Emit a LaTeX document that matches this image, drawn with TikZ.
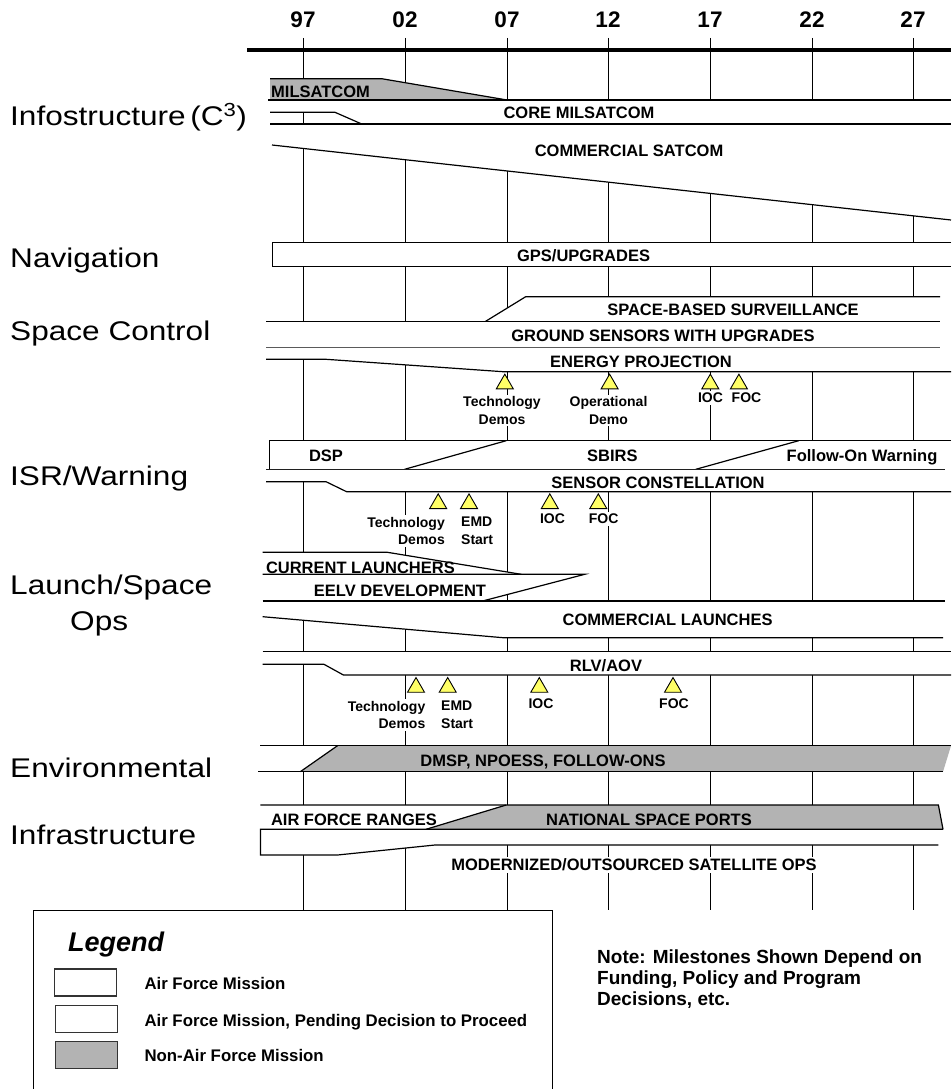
\documentclass[tikz,border=0pt]{standalone}
\usepackage{fontspec}
\setmainfont{Liberation Sans}
\newfontfamily\catfont[FakeStretch=1.17]{Liberation Sans}
\usepackage{tikz}
\usetikzlibrary{shapes.geometric}
\definecolor{barGray}{RGB}{179,179,179}
\definecolor{msYellow}{RGB}{255,255,102}
\tikzstyle {year label} = [font=\bfseries\fontsize{22.5}{24}\selectfont, inner sep=0pt]
\tikzstyle {row label} = [font=\catfont\fontsize{27}{30}\selectfont, anchor=base west, inner sep=0pt]
\tikzstyle {bar label} = [font=\bfseries\fontsize{16.5}{19}\selectfont, anchor=base, inner sep=0pt]
\tikzstyle {key label} = [font=\bfseries\fontsize{16.8}{19}\selectfont, anchor=base west, inner sep=0pt]
\tikzstyle {ms label} = [font=\bfseries\fontsize{14}{17.6}\selectfont, fill=white, inner sep=2pt, align=center]
\tikzstyle {milestone} = [regular polygon, regular polygon sides=3, draw, fill=msYellow, line width=0.9pt, minimum size=19.6pt, inner sep=0pt, anchor=south]
\tikzstyle {swatch} = [draw=black!80, line width=1.2pt, minimum width=62pt, minimum height=27pt, inner sep=0pt]
\tikzset{tick line/.style = {line width=1pt},
         bar edge/.style = {line width=1.2pt}}

\begin{document}
\begin{tikzpicture}[x=1pt, y=-1pt]
\clip (0,0) rectangle (951,1089);
\fill[white] (0,0) rectangle (951,1089);

\node[year label] (y97) at (303,20) {97};
\node[year label] (y02) at (405,20) {02};
\node[year label] (y07) at (507,20) {07};
\node[year label] (y12) at (608,20) {12};
\node[year label] (y17) at (710,20) {17};
\node[year label] (y22) at (812,20) {22};
\node[year label] (y27) at (913,20) {27};
\draw[tick line] (303,38) -- (303,910);
\draw[tick line] (405,38) -- (405,910);
\draw[tick line] (507,38) -- (507,910);
\draw[tick line] (608,38) -- (608,910);
\draw[tick line] (710,38) -- (710,910);
\draw[tick line] (812,38) -- (812,910);
\draw[tick line] (913,38) -- (913,910);
\draw[line width=3.2pt] (247,50) -- (951,50);

% Infostructure
\fill[barGray] (270,78.7) -- (381.7,78.7) -- (507,100) -- (270,100) -- cycle;
\draw[bar edge] (270,78.7) -- (381.7,78.7) -- (507,100);
\fill[white] (270,100) -- (951,100) -- (951,124) -- (361.7,124) -- (335,112.3) -- (270,112.3) -- cycle;
\draw[bar edge] (268,100) -- (951,100);
\draw[bar edge] (270,112.3) -- (335,112.3) -- (361.7,124);
\fill[white] (272,124) -- (951,124) -- (951,220) -- (272,145) -- cycle;
\draw[bar edge] (270,124) -- (951,124);
\draw[bar edge] (272,145) -- (951,220);
\node[bar label, anchor=base west] (milsat) at (271,97.5) {MILSATCOM};
\node[bar label] (coremil) at (579,119) {CORE MILSATCOM};
\node[bar label] (comsat) at (629,156.7) {COMMERCIAL SATCOM};

% Navigation
\fill[white] (272.7,242.7) rectangle (951,266.7);
\draw[bar edge] (951,242.7) -- (272.7,242.7) -- (272.7,266.7) -- (951,266.7);
\node[bar label] (gps) at (583.6,261.5) {GPS/UPGRADES};

% Space Control
\fill[white] (525.7,296.7) -- (940,296.7) -- (940,321.7) -- (485,321.7) -- cycle;
\draw[bar edge] (485,321.7) -- (525.7,296.7) -- (940,296.7);
\fill[white] (266,321.7) rectangle (940,347.7);
\draw[bar edge] (266,321.7) -- (940,321.7);
\draw[bar edge] (266,347.7) -- (940,347.7);
\fill[white] (266,347.7) -- (951,347.7) -- (951,371.7) -- (503,371.7) -- (326,359.3) -- (266,359.3) -- cycle;
\draw[bar edge] (266,359.3) -- (326,359.3) -- (503,371.7) -- (951,371.7);
\node[bar label] (sbs) at (733,315) {SPACE-BASED SURVEILLANCE};
\node[bar label] (gswu) at (663,341.5) {GROUND SENSORS WITH UPGRADES};
\node[bar label] (energy) at (641,367) {ENERGY PROJECTION};
\node[milestone] (epTech) at (504.8,389.3) {};
\node[milestone] (epOper) at (609.6,389.3) {};
\node[milestone] (epIoc) at (710.3,389.3) {};
\node[milestone] (epFoc) at (738.9,389.3) {};
\node[ms label] (epTechL) at (502,410.5) {Technology\\Demos};
\node[ms label] (epOperL) at (608.5,410.5) {Operational\\Demo};
\node[ms label] (epIocL) at (710.5,398) {IOC};
\node[ms label] (epFocL) at (746.5,398) {FOC};

% ISR/Warning
\fill[white] (269.5,440.7) rectangle (951,469.3);
\draw[bar edge] (951,440.7) -- (269.5,440.7) -- (269.5,469.3);
\draw[bar edge] (266,469.3) -- (945,469.3);
\draw[bar edge] (404.6,469.3) -- (506.2,440.7);
\draw[bar edge] (695.8,469.3) -- (798.7,440.7);
\fill[white] (266,469.9) -- (951,469.9) -- (951,491.7) -- (346.6,491.7) -- (326,481.7) -- (266,481.7) -- cycle;
\draw[bar edge] (266,481.7) -- (326,481.7) -- (346.6,491.7) -- (951,491.7);
\node[bar label] (dsp) at (326,461.5) {DSP};
\node[bar label] (sbirs) at (612.3,461.5) {SBIRS};
\node[bar label, anchor=base west] (followon) at (786.5,461.5) {Follow-On Warning};
\node[bar label] (sensor) at (658,488) {SENSOR CONSTELLATION};
\node[milestone] (isTech) at (438.2,509) {};
\node[milestone] (isEmd) at (469,509) {};
\node[milestone] (isIoc) at (549.8,509) {};
\node[milestone] (isFoc) at (598.3,509) {};
\node[ms label, align=right, anchor=east] (isTechL) at (447,531) {Technology\\Demos};
\node[ms label, align=left, anchor=west] (isEmdL) at (459,531) {EMD\\Start};
\node[ms label] (isIocL) at (552.5,519) {IOC};
\node[ms label] (isFocL) at (603.6,519) {FOC};

% Launch/Space Ops
\fill[white] (262.7,552.3) -- (387.4,552.3) -- (521.2,574.3) -- (262.7,574.3) -- cycle;
\draw[bar edge] (262.7,552.3) -- (387.4,552.3) -- (521.2,574.3);
\fill[white] (262.7,574.3) -- (584.7,574.3) -- (482.6,601) -- (262.7,601) -- cycle;
\draw[bar edge] (262.7,574.3) -- (584.7,574.3) -- (482.6,601);
\fill[white] (262.7,601) -- (945,601) -- (945,637.7) -- (503,637.7) -- (262.7,616.7) -- cycle;
\draw[bar edge] (262.7,601) -- (945,601);
\draw[bar edge] (262.7,616.7) -- (503,637.7) -- (943,637.7);
\fill[white] (262.7,651.7) -- (951,651.7) -- (951,675) -- (343.4,675) -- (324,664.3) -- (262.7,664.3) -- cycle;
\draw[bar edge] (262.7,651.7) -- (951,651.7);
\draw[bar edge] (262.7,664.3) -- (324,664.3) -- (343.4,675) -- (951,675);
\node[bar label, anchor=base west] (current) at (265.8,573) {CURRENT LAUNCHERS};
\node[bar label] (eelv) at (400,596.5) {EELV DEVELOPMENT};
\node[bar label] (comlaunch) at (667.6,625) {COMMERCIAL LAUNCHES};
\node[bar label] (rlv) at (606,671.5) {RLV/AOV};
\node[milestone] (lsTech) at (416,692.7) {};
\node[milestone] (lsEmd) at (447.7,692.7) {};
\node[milestone] (lsIoc) at (539.3,692.7) {};
\node[milestone] (lsFoc) at (673,692.7) {};
\node[ms label, align=right, anchor=east] (lsTechL) at (427.5,715) {Technology\\Demos};
\node[ms label, align=left, anchor=west] (lsEmdL) at (439,715) {EMD\\Start};
\node[ms label] (lsIocL) at (541,704) {IOC};
\node[ms label] (lsFocL) at (674,704) {FOC};

% Environmental
\fill[white] (258,745.7) rectangle (951,771.7);
\fill[barGray] (337.5,745.7) -- (951,745.7) -- (943,771.7) -- (300.3,771.7) -- cycle;
\draw[bar edge] (260.4,745.7) -- (951,745.7);
\draw[bar edge] (258,771.7) -- (943,771.7);
\draw[bar edge] (300.3,771.7) -- (337.5,745.7);
\node[bar label] (dmsp) at (543,766.5) {DMSP, NPOESS, FOLLOW-ONS};

% Infrastructure
\fill[white] (260.4,805) rectangle (943,829.3);
\fill[barGray] (506.2,805) -- (938.4,805) -- (943,829.3) -- (426,829.3) -- cycle;
\draw[bar edge] (260.4,805) -- (938.4,805) -- (943,829.3);
\draw[bar edge] (426,829.3) -- (506.2,805);
\fill[white] (260.4,829.3) -- (943,829.3) -- (943,845) -- (435,845) -- (337.5,855) -- (260.4,855) -- cycle;
\draw[bar edge] (943,829.3) -- (260.4,829.3) -- (260.4,855) -- (337.5,855) -- (435,845) -- (938.4,845);
\node[bar label, anchor=base west] (afranges) at (270.8,825) {AIR FORCE RANGES};
\node[bar label] (spaceports) at (649,825) {NATIONAL SPACE PORTS};
\node[bar label, fill=white, inner sep=2pt] (satops) at (634,870.5) {MODERNIZED/OUTSOURCED SATELLITE OPS};

% row names
\node[row label] (infostr) at (10,126) {Infostructure\,(C\textsuperscript{3})};
\node[row label] (navig) at (10,267) {Navigation};
\node[row label] (spctrl) at (10,340) {Space Control};
\node[row label] (isrwarn) at (10,485) {ISR/Warning};
\node[row label] (launch) at (10,594) {Launch/Space};
\node[row label] (launchops) at (70,630) {Ops};
\node[row label] (environ) at (10,777) {Environmental};
\node[row label] (infrastr) at (10,844) {Infrastructure};

% legend
\draw[line width=1pt] (33.3,1100) -- (33.3,910) -- (552,910) -- (552,1100);
\node[font=\bfseries\itshape\fontsize{27}{30}\selectfont, anchor=base west, inner sep=0pt] (legend) at (68,951.7) {Legend};
\node[swatch, fill=white] (swAf) at (85.5,982.5) {};
\node[swatch, fill=white] (swPend) at (86.3,1019.2) {};
\node[swatch, fill=barGray] (swNon) at (86.3,1055.3) {};
\node[key label] (txAf) at (144.3,989.3) {Air Force Mission};
\node[key label] (txPend) at (144.3,1026) {Air Force Mission, Pending Decision to Proceed};
\node[key label] (txNon) at (144.3,1061.7) {Non-Air Force Mission};
\node[font=\bfseries\fontsize{19}{21}\selectfont, anchor=north west, inner sep=0pt, align=left] (note) at (597,949.5) {Note: Milestones Shown Depend on\\Funding, Policy and Program\\Decisions, etc.};
\end{tikzpicture}
\end{document}
